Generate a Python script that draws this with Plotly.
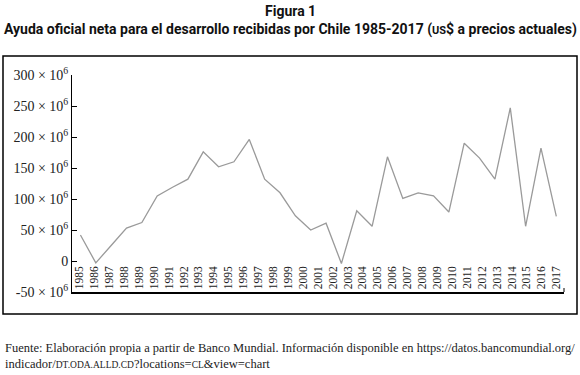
import plotly.graph_objects as go

# Tick labels of the category axis (years shown under the line)
years = list(range(1985, 2018))
year_labels = [str(y) for y in years]

# Net ODA received, millions of US$ (32 points as drawn in the reference)
point_index = list(range(32))
oda_millions = [42, -3, 25, 53, 62, 105, 119, 132, 176, 152, 160, 196, 132, 110, 73, 50,
                61, -4, 81, 56, 168, 101, 110, 105, 79, 190, 166, 132, 247, 56, 182, 72]

# Y-axis ticks
y_tickvals = [-50, 0, 50, 100, 150, 200, 250, 300]
y_ticktext = ["-50 × 10<sup>6</sup>", "0", "50 × 10<sup>6</sup>", "100 × 10<sup>6</sup>",
              "150 × 10<sup>6</sup>", "200 × 10<sup>6</sup>", "250 × 10<sup>6</sup>",
              "300 × 10<sup>6</sup>"]

SERIF = "Liberation Serif, Times New Roman, serif"
SANS_B = "Liberation Sans Narrow, Roboto, Arial, sans-serif"

fig = go.Figure()
# carrier trace for the year axis (no visible marks)
fig.add_trace(go.Scatter(x=years, y=[None] * len(years), xaxis="x", yaxis="y",
                         mode="lines", hoverinfo="skip", showlegend=False))
fig.add_trace(go.Scatter(
    x=point_index, y=oda_millions, xaxis="x2", yaxis="y",
    mode="lines", line=dict(color="#9a9a9a", width=1.3),
    hoverinfo="skip", showlegend=False))

fig.update_layout(
    width=580, height=375,
    paper_bgcolor="white", plot_bgcolor="white",
    margin=dict(l=72, r=16, t=75, b=83),
    showlegend=False,
    # year labels hang just below the zero level
    xaxis=dict(range=[1984.5, 2017.5], tickmode="array", tickvals=years, ticktext=year_labels,
               tickangle=-90, ticks="", anchor="free", position=50 / 350 - 0.004,
               tickfont=dict(family=SERIF, size=11.5, color="#222"),
               showline=False, showgrid=False, zeroline=False, fixedrange=True,
               ticklabelstandoff=1),
    # data axis: draws the bottom line only
    xaxis2=dict(range=[-0.55, 31.5], overlaying="x", anchor="y", side="bottom",
                showticklabels=False, ticks="", showline=True, linecolor="black",
                linewidth=1.5, showgrid=False, zeroline=False, fixedrange=True),
    yaxis=dict(range=[-50, 300], tickmode="array", tickvals=y_tickvals, ticktext=y_ticktext,
               ticks="inside", ticklen=5, tickcolor="black", tickwidth=1,
               tickfont=dict(family=SERIF, size=14, color="#222"),
               showline=True, linecolor="black", linewidth=1, showgrid=False,
               zeroline=False, fixedrange=True),
)

def py2paper(py):
    return (292 - py) / 217.0

def px2paper(px):
    return (px - 72) / 492.0

# Outer frame
fig.add_shape(type="rect", xref="paper", yref="paper",
              x0=px2paper(3), x1=px2paper(577), y0=py2paper(314), y1=py2paper(56),
              line=dict(color="black", width=1.5), layer="below")
# Small end tick at the right end of the x axis
fig.add_shape(type="line", xref="paper", yref="paper", x0=1, x1=1,
              y0=0, y1=py2paper(288), line=dict(color="black", width=1))

fig.add_annotation(text="<b>Figura 1</b>", xref="paper", yref="paper",
                   x=px2paper(290), y=py2paper(11), showarrow=False,
                   xanchor="center", yanchor="middle",
                   font=dict(family=SANS_B, size=14, color="#111"))
fig.add_annotation(
    text="<b>Ayuda oficial neta para el desarrollo recibidas por Chile 1985-2017 "
         "(<span style='font-size:11px'>US</span>$ a precios actuales)</b>",
    xref="paper", yref="paper", x=px2paper(290), y=py2paper(29), showarrow=False,
    xanchor="center", yanchor="middle",
    font=dict(family=SANS_B, size=14, color="#111"))

fig.add_annotation(
    text="Fuente: Elaboración propia a partir de Banco Mundial. Información disponible en https://datos.bancomundial.org/",
    xref="paper", yref="paper", x=px2paper(3), y=py2paper(348), showarrow=False,
    xanchor="left", yanchor="middle", font=dict(family=SERIF, size=12.5, color="#222"))
fig.add_annotation(
    text="indicador/<span style='font-size:9.5px'>DT.ODA.ALLD.CD</span>?locations=<span style='font-size:9.5px'>CL</span>&view=chart",
    xref="paper", yref="paper", x=px2paper(3), y=py2paper(364), showarrow=False,
    xanchor="left", yanchor="middle", font=dict(family=SERIF, size=12.5, color="#222"))

# remove the default 8px page margin so the figure sits at the window's corner
fig.write_html("out.html", config={"displayModeBar": False},
               post_script="document.body.style.margin='0px';")
